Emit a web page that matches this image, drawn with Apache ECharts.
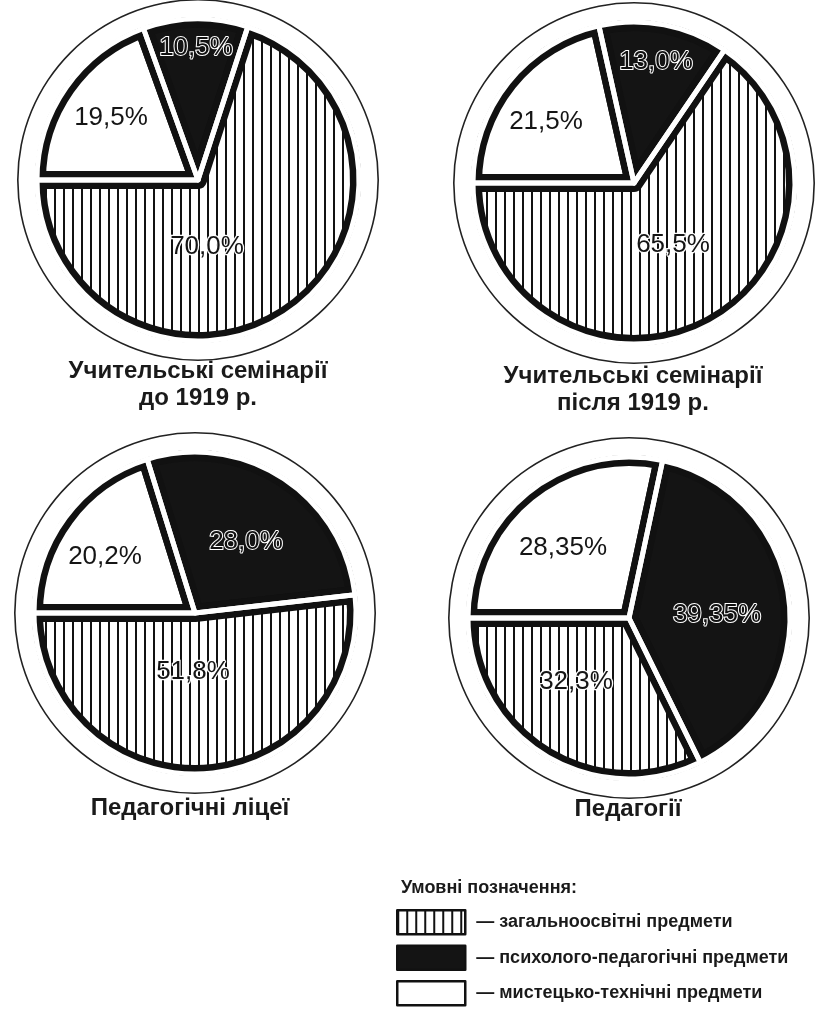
<!DOCTYPE html>
<html>
<head>
<meta charset="utf-8">
<script src="https://cdn.jsdelivr.net/npm/echarts@6/dist/echarts.min.js"></script>
<style>
html,body{margin:0;padding:0;background:#ffffff;}
#chart{width:820px;height:1009px;}
</style>
</head>
<body>
<div id="chart"></div>
<script>
// ---------------- DATA ----------------
// slice order (clockwise from 9 o'clock): art/technical, psycho-pedagogical, general
const categories = ['мистецько-технічні предмети', 'психолого-педагогічні предмети', 'загальноосвітні предмети'];
const legendOrder = ['загальноосвітні предмети', 'психолого-педагогічні предмети', 'мистецько-технічні предмети'];
const pieTitles = ['Учительські семінарії\nдо 1919 р.', 'Учительські семінарії\nпісля 1919 р.', 'Педагогічні ліцеї', 'Педагогії'];
const seminariesBefore1919 = [19.5, 10.5, 70.0];
const seminariesAfter1919 = [21.5, 13.0, 65.5];
const pedagogicalLyceums = [20.2, 28.0, 51.8];
const pedagogies = [28.35, 39.35, 32.3];
const legendTitle = 'Умовні позначення:';

// ---------------- LAYOUT / STYLE ----------------
const FONT = '"Liberation Sans", Arial, sans-serif';
const PIE_CENTERS = [[198, 180], [634, 183], [195, 613], [629, 618]];
const R = 161, R_OUT = 181;
const TITLE_POS = [[198, 385], [633, 390], [190, 808], [628, 809]];
// label offsets from pie centre, per pie, per slice (white, black, hatched)
const LABEL_OFFSETS = [
  [[-87, -62], [-2, -132], [9, 67]],
  [[-88, -61], [22, -121], [39, 62]],
  [[-90, -56], [51, -71], [-2, 59]],
  [[-66, -70], [88, -3], [-53, 64]]
];

const hatch = document.createElement('canvas');
hatch.width = 9; hatch.height = 9;
(function () {
  const ctx = hatch.getContext('2d');
  ctx.fillStyle = '#ffffff'; ctx.fillRect(0, 0, 9, 9);
  ctx.fillStyle = '#111111'; ctx.fillRect(0, 0, 2, 9);
})();
const FILLS = ['#ffffff', '#141414', { image: hatch, repeat: 'repeat' }];
const LABEL_STYLES = [
  { color: '#151515', fontSize: 26, fontFamily: FONT },
  { color: '#111111', fontSize: 26, fontFamily: FONT, textBorderColor: '#ffffff', textBorderWidth: 2 },
  { color: '#151515', fontSize: 26, fontFamily: FONT, textBorderColor: '#ffffff', textBorderWidth: 2.5 }
];

function fmt(v) {
  return (Number.isInteger(v) ? v.toFixed(1) : String(v)).replace('.', ',') + '%';
}

function pieSeries(values, idx) {
  const center = PIE_CENTERS[idx];
  const common = {
    type: 'pie', center: center, startAngle: 180, clockwise: true,
    silent: true, animation: false, avoidLabelOverlap: false,
    emphasis: { disabled: true }, labelLine: { show: false }
  };
  return [
    Object.assign({}, common, {
      z: 2, radius: R,
      label: { show: false },
      itemStyle: { borderColor: '#111111', borderWidth: 18, borderJoin: 'round' },
      data: values.map((v, i) => ({ name: categories[i], value: v, itemStyle: { color: FILLS[i] } }))
    }),
    Object.assign({}, common, {
      z: 3, radius: R,
      itemStyle: { color: 'rgba(0,0,0,0)', borderColor: '#ffffff', borderWidth: 5, borderJoin: 'round' },
      label: { show: true, position: 'center', formatter: p => fmt(p.value) },
      labelLayout: p => ({ dx: LABEL_OFFSETS[idx][p.dataIndex][0], dy: LABEL_OFFSETS[idx][p.dataIndex][1] }),
      data: values.map((v, i) => ({ name: categories[i], value: v, label: LABEL_STYLES[i] }))
    }),
    Object.assign({}, common, {
      z: 4, radius: [R + 2, R_OUT - 2],
      label: { show: false },
      itemStyle: { color: '#ffffff' },
      data: [{ name: 'ring', value: 1 }]
    }),
    Object.assign({}, common, {
      z: 5, radius: [R_OUT - 1.6, R_OUT],
      label: { show: false },
      itemStyle: { color: '#222222' },
      data: [{ name: 'outline', value: 1 }]
    })
  ];
}

const allPies = [seminariesBefore1919, seminariesAfter1919, pedagogicalLyceums, pedagogies];
let series = [];
allPies.forEach((vals, i) => { series = series.concat(pieSeries(vals, i)); });

const graphics = pieTitles.map((t, i) => ({
  type: 'text', x: TITLE_POS[i][0], y: TITLE_POS[i][1], silent: true, z: 10,
  style: {
    text: t, fill: '#1a1a1a', fontSize: 24, fontWeight: 'bold', fontFamily: FONT,
    lineHeight: 27, align: 'center', textAlign: 'center', verticalAlign: 'middle', textVerticalAlign: 'middle'
  }
}));
graphics.push({
  type: 'text', x: 401, y: 888, silent: true, z: 10,
  style: {
    text: legendTitle, fill: '#1a1a1a', fontSize: 18, fontWeight: 'bold', fontFamily: FONT,
    align: 'left', textAlign: 'left', verticalAlign: 'middle', textVerticalAlign: 'middle'
  }
});

const chart = echarts.init(document.getElementById('chart'), null, { renderer: 'canvas' });
chart.setOption({
  backgroundColor: '#ffffff',
  animation: false,
  legend: {
    data: legendOrder, orient: 'vertical', left: 396, top: 909, height: 100, padding: 0,
    itemWidth: 68, itemHeight: 24, itemGap: 9, icon: 'rect', selectedMode: false,
    formatter: n => '— ' + n,
    itemStyle: { borderColor: '#111111', borderWidth: 2.5 },
    textStyle: { fontFamily: FONT, fontWeight: 'bold', fontSize: 18, color: '#1a1a1a', padding: [0, 0, 0, 6] }
  },
  graphic: graphics,
  series: series
});
</script>
</body>
</html>
